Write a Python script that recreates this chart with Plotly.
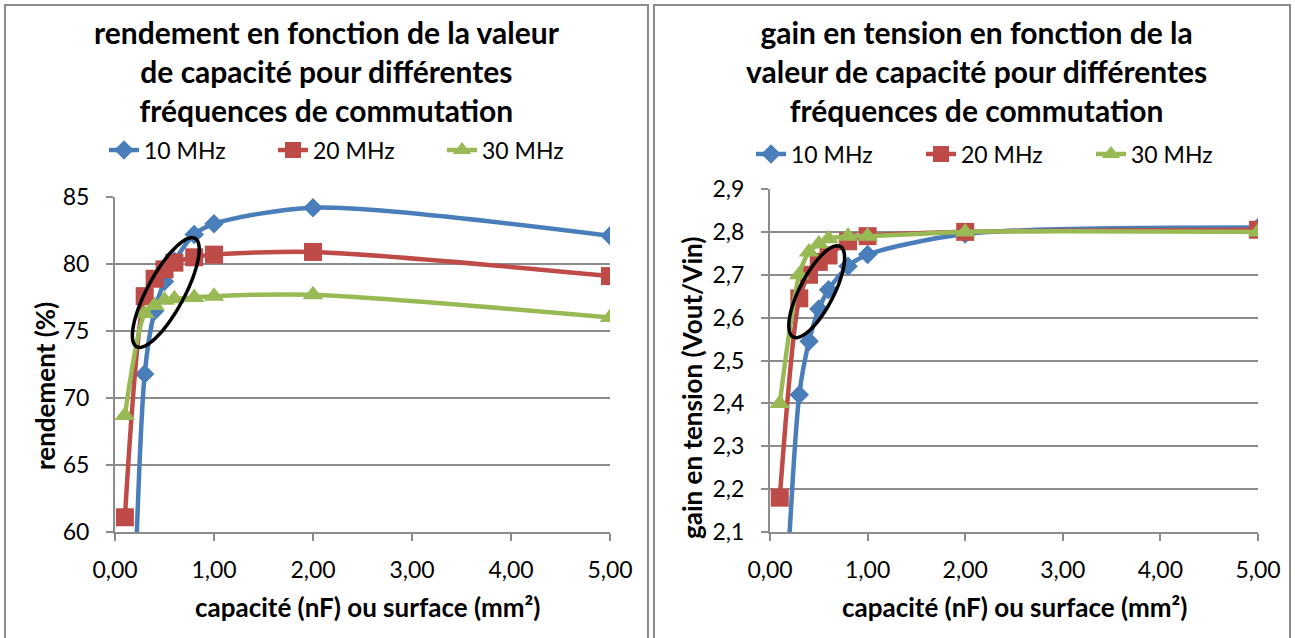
import numpy as np
import plotly.graph_objects as go

# ---------------- data ----------------
cap = [0.1, 0.3, 0.4, 0.5, 0.6, 0.8, 1.0, 2.0, 5.0]
series_names = ["10 MHz", "20 MHz", "30 MHz"]

rend_10 = [30.0, 71.8, 76.5, 78.7, 80.2, 82.2, 83.0, 84.2, 82.1]
rend_20 = [61.1, 77.6, 78.9, 79.6, 80.1, 80.5, 80.7, 80.9, 79.1]
rend_30 = [68.7, 76.3, 76.9, 77.3, 77.4, 77.5, 77.6, 77.7, 76.0]

gain_10 = [1.65, 2.42, 2.545, 2.62, 2.665, 2.72, 2.747, 2.795, 2.81]
gain_20 = [2.18, 2.645, 2.70, 2.73, 2.745, 2.778, 2.79, 2.80, 2.805]
gain_30 = [2.40, 2.70, 2.753, 2.772, 2.784, 2.79, 2.79, 2.80, 2.80]

x_ticks = [0, 1, 2, 3, 4, 5]
y_ticks_left = [60, 65, 70, 75, 80, 85]
y_ticks_right = [2.1, 2.2, 2.3, 2.4, 2.5, 2.6, 2.7, 2.8, 2.9]

colors = ["#4A7EBB", "#BE4B48", "#98B954"]
symbols = ["diamond", "square", "triangle-up"]
msizes = [15, 18, 18]

title_left = "rendement en fonction de la valeur<br>de capacité pour différentes<br>fréquences de commutation"
title_right = "gain en tension en fonction de la<br>valeur de capacité pour différentes<br>fréquences de commutation"
xtitle = "capacité (nF) ou surface (mm²)"
ytitle_left = "rendement (%)"
ytitle_right = "gain en tension (Vout/Vin)"

W, H = 1295, 638
OFF = 0  # body margin removed via post_script
FONT = "Lato"
GRID = "#8C8C8C"

# plot areas in target-image pixels (left, right, top, bottom)
L_AREA = (115, 610, 197, 532)
R_AREA = (770, 1258, 189, 532)


def px(x):
    return (x - OFF) / W


def py(y):
    return 1 - (y - OFF) / H


def dom(area):
    l, r, t, b = area
    return [px(l), px(r)], [py(b), py(t)]


fig = go.Figure()

for name, ys, c, s, ms in zip(series_names, [rend_10, rend_20, rend_30], colors, symbols, msizes):
    fig.add_trace(go.Scatter(x=cap, y=ys, name=name, mode="lines+markers",
                             line=dict(color=c, width=4.5, shape="spline", smoothing=0.8),
                             marker=dict(symbol=s, size=ms, color=c),
                             xaxis="x", yaxis="y", legend="legend"))
for name, ys, c, s, ms in zip(series_names, [gain_10, gain_20, gain_30], colors, symbols, msizes):
    fig.add_trace(go.Scatter(x=cap, y=ys, name=name, mode="lines+markers",
                             line=dict(color=c, width=4.5, shape="spline", smoothing=0.8),
                             marker=dict(symbol=s, size=ms, color=c),
                             xaxis="x2", yaxis="y2", legend="legend2"))

lx, ly = dom(L_AREA)
rx, ry = dom(R_AREA)

axis_common = dict(showline=True, linecolor=GRID, linewidth=2, ticks="outside",
                   ticklen=7, tickcolor=GRID, tickwidth=2, automargin=False,
                   tickfont=dict(family=FONT, size=23, color="#000"), zeroline=False)

fig.update_layout(
    width=W, height=H, margin=dict(l=0, r=0, t=0, b=0, autoexpand=False),
    paper_bgcolor="white", plot_bgcolor="white",
    separators=", ",
    showlegend=True,
    xaxis=dict(domain=lx, range=[0, 5], tickvals=x_ticks, tickformat=".2f",
               showgrid=False, anchor="y", ticklabelstandoff=9, **axis_common),
    yaxis=dict(domain=ly, range=[60, 85], tickvals=y_ticks_left, showgrid=True,
               gridcolor=GRID, gridwidth=2, anchor="x", ticklabelstandoff=12, **axis_common),
    xaxis2=dict(domain=rx, range=[0, 5], tickvals=x_ticks, tickformat=".2f",
                showgrid=False, anchor="y2", ticklabelstandoff=9, **axis_common),
    yaxis2=dict(domain=ry, range=[2.1, 2.9], tickvals=y_ticks_right, tickformat=".1f",
                showgrid=True, gridcolor=GRID, gridwidth=2, anchor="x2", ticklabelstandoff=12,
                **axis_common),
    legend=dict(orientation="h", x=px(104), xanchor="left", y=py(150), yanchor="middle",
                font=dict(family=FONT, size=23, color="#000"), entrywidth=124,
                bgcolor="rgba(0,0,0,0)", itemwidth=30, tracegroupgap=0),
    legend2=dict(orientation="h", x=px(751), xanchor="left", y=py(154), yanchor="middle",
                 font=dict(family=FONT, size=23, color="#000"), entrywidth=125,
                 bgcolor="rgba(0,0,0,0)", itemwidth=30, tracegroupgap=0),
)

# titles & axis titles
ann = []
ann.append(dict(text="<b>" + title_left + "</b>", x=px(327), y=py(71), xref="paper", yref="paper",
                xanchor="center", yanchor="middle",
                showarrow=False, font=dict(family=FONT, size=30, color="#000"), align="center"))
ann.append(dict(text="<b>" + title_right + "</b>", x=px(976), y=py(71), xref="paper", yref="paper",
                xanchor="center", yanchor="middle",
                showarrow=False, font=dict(family=FONT, size=30, color="#000"), align="center"))
ann.append(dict(text="<b>" + xtitle + "</b>", x=px(367), y=py(607), xref="paper", yref="paper",
                xanchor="center", yanchor="middle",
                showarrow=False, font=dict(family=FONT, size=26, color="#000")))
ann.append(dict(text="<b>" + xtitle + "</b>", x=px(1014), y=py(607), xref="paper", yref="paper",
                xanchor="center", yanchor="middle",
                showarrow=False, font=dict(family=FONT, size=26, color="#000")))
ann.append(dict(text="<b>" + ytitle_left + "</b>", x=px(45), y=py(386), xref="paper", yref="paper",
                xanchor="center", yanchor="middle",
                showarrow=False, textangle=-90, font=dict(family=FONT, size=26, color="#000")))
ann.append(dict(text="<b>" + ytitle_right + "</b>", x=px(692), y=py(388), xref="paper", yref="paper",
                xanchor="center", yanchor="middle",
                showarrow=False, textangle=-90, font=dict(family=FONT, size=26, color="#000")))
fig.update_layout(annotations=ann)

# panel borders
shapes = [
    dict(type="rect", xref="paper", yref="paper", x0=px(5), x1=px(648), y0=-0.05, y1=py(5),
         line=dict(color="#8C8C8C", width=2)),
    dict(type="rect", xref="paper", yref="paper", x0=px(654), x1=px(1290), y0=-0.05, y1=py(5),
         line=dict(color="#8C8C8C", width=2)),
]


def ellipse_path(center, a, b, ang_deg, area, xr, yr):
    l, r, t, btm = area
    th = np.linspace(0, 2 * np.pi, 73)
    ang = np.deg2rad(ang_deg)
    ux, uy = np.cos(ang), -np.sin(ang)
    vx, vy = np.sin(ang), np.cos(ang)
    ex = center[0] + a * np.cos(th) * ux + b * np.sin(th) * vx
    ey = center[1] + a * np.cos(th) * uy + b * np.sin(th) * vy
    dx = xr[0] + (ex - l) / (r - l) * (xr[1] - xr[0])
    dy = yr[1] - (ey - t) / (btm - t) * (yr[1] - yr[0])
    pts = ["{:.4f},{:.4f}".format(x, y) for x, y in zip(dx, dy)]
    return "M " + " L ".join(pts) + " Z"


shapes.append(dict(type="path", xref="x", yref="y",
                   path=ellipse_path((165.8, 292.5), 61.6, 18.5, 61.7, L_AREA, [0, 5], [60, 85]),
                   line=dict(color="black", width=3.5)))
shapes.append(dict(type="path", xref="x2", yref="y2",
                   path=ellipse_path((816.7, 291.7), 51.0, 17.0, 62.6, R_AREA, [0, 5], [2.1, 2.9]),
                   line=dict(color="black", width=3.5)))
fig.update_layout(shapes=shapes)

fig.write_html("out.html", config={"displayModeBar": False},
               post_script="document.body.style.margin='0';")
